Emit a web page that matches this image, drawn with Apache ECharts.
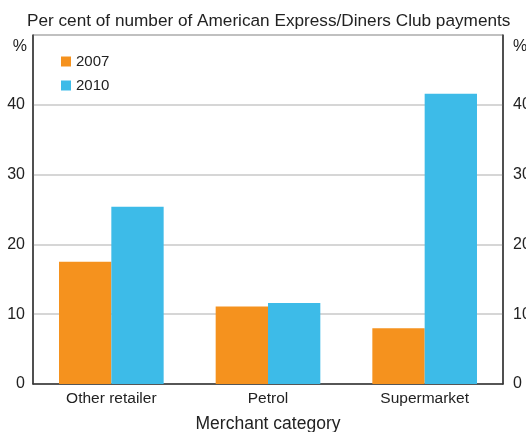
<!DOCTYPE html>
<html>
<head>
<meta charset="utf-8">
<script src="https://cdn.jsdelivr.net/npm/echarts@6/dist/echarts.min.js"></script>
<style>
  html, body { margin: 0; padding: 0; background: #fff; }
  #chart { width: 526px; height: 432px; }
</style>
</head>
<body>
<div id="chart"></div>
<script>
var categories = ['Other retailer', 'Petrol', 'Supermarket'];
var values2007 = [17.5, 11.1, 8.0];
var values2010 = [25.4, 11.6, 41.6];
var yTicks = [0, 10, 20, 30, 40, 50];

var font = '"Liberation Sans", Arial, sans-serif';
var chart = echarts.init(document.getElementById('chart'));

function valueAxis(pos) {
    return {
        type: 'value',
        position: pos,
        min: yTicks[0],
        max: yTicks[yTicks.length - 1],
        interval: 10,
        name: '%',
        nameLocation: 'end',
        nameGap: -12,
        nameTextStyle: {
            fontFamily: font, fontSize: 16, color: '#222',
            align: pos === 'left' ? 'right' : 'left',
            verticalAlign: 'middle',
            padding: pos === 'left' ? [0, 6, 0, 0] : [0, 0, 0, 10]
        },
        axisLine: { show: true, lineStyle: { color: '#333', width: 1.5 } },
        axisTick: { show: false },
        axisLabel: {
            fontFamily: font, fontSize: 16, color: '#222',
            margin: pos === 'left' ? 8 : 10,
            formatter: function (v) { return v === 50 ? '' : v; }
        },
        splitLine: { show: pos === 'left', lineStyle: { color: '#c8c8c8', width: 1.5 } }
    };
}

chart.setOption({
    color: ['#f5921e', '#3dbbe8'],
    title: {
        text: 'Per cent of number of American Express/Diners Club payments',
        left: 22,
        top: 8,
        textStyle: { fontFamily: font, fontSize: 17.2, fontWeight: 'normal', color: '#222' }
    },
    legend: {
        orient: 'vertical',
        left: 56,
        top: 49,
        icon: 'rect',
        itemWidth: 10,
        itemHeight: 10,
        itemGap: 9,
        textStyle: { fontFamily: font, fontSize: 15, color: '#222' },
        data: ['2007', '2010']
    },
    grid: {
        left: 33,
        right: 23,
        top: 35,
        bottom: 48,
        outerBoundsMode: 'none',
        containLabel: false,
        show: true,
        borderColor: '#555',
        borderWidth: 1
    },
    xAxis: {
        type: 'category',
        data: categories,
        name: 'Merchant category',
        nameLocation: 'middle',
        nameGap: 31,
        nameTextStyle: { fontFamily: font, fontSize: 17.5, color: '#222' },
        axisLine: { lineStyle: { color: '#333', width: 1.5 } },
        axisTick: { show: false },
        axisLabel: { fontFamily: font, fontSize: 15.5, color: '#222', margin: 7 }
    },
    yAxis: [valueAxis('left'), valueAxis('right')],
    series: [
        {
            name: '2007',
            type: 'bar',
            data: values2007,
            barWidth: '33.4%',
            barGap: '0%'
        },
        {
            name: '2010',
            type: 'bar',
            data: values2010,
            barWidth: '33.4%',
            barGap: '0%'
        }
    ]
});
</script>
</body>
</html>
